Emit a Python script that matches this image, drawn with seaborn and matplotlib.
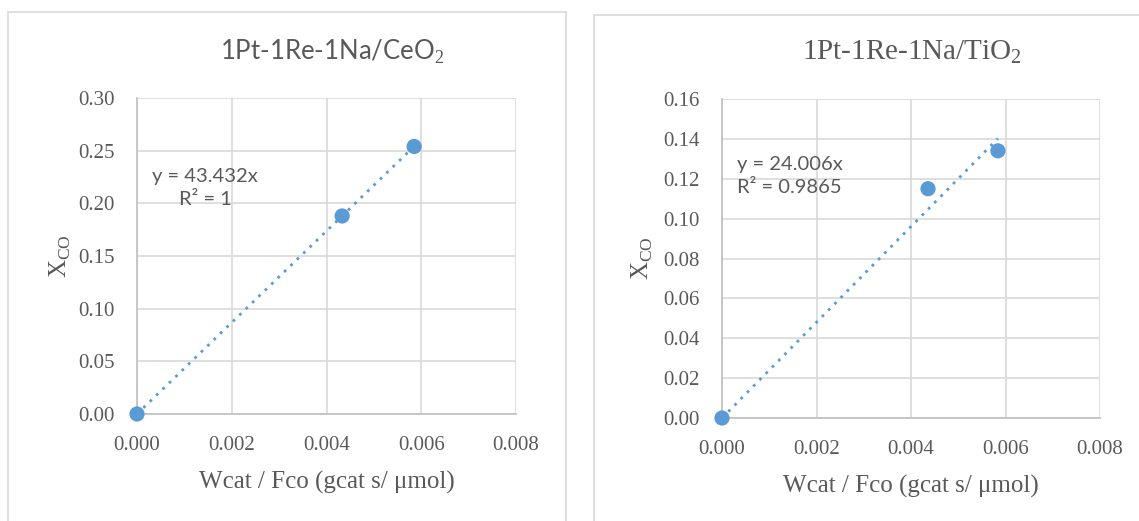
import matplotlib
matplotlib.use("Agg")
import matplotlib.pyplot as plt
import seaborn as sns
import numpy as np
import pandas as pd
from matplotlib.patches import Rectangle
from matplotlib.ticker import FixedLocator

# ---- data ----
titles = ["1Pt-1Re-1Na/CeO$_2$", "1Pt-1Re-1Na/TiO$_2$"]
ceo2_x = [0.0, 0.00433, 0.00585]
ceo2_y = [0.0, 0.188, 0.254]
tio2_x = [0.0, 0.00436, 0.00584]
tio2_y = [0.0, 0.115, 0.134]
slopes = [43.432, 24.006]
eq_labels = ["y = 43.432x\nR² = 1", "y = 24.006x\nR² = 0.9865"]
x_ticks = [0.000, 0.002, 0.004, 0.006, 0.008]
y_ticks_ceo2 = [0.00, 0.05, 0.10, 0.15, 0.20, 0.25, 0.30]
y_ticks_tio2 = [0.00, 0.02, 0.04, 0.06, 0.08, 0.10, 0.12, 0.14, 0.16]
x_label = "Wcat / Fco (gcat s/ μmol)"
y_label = "X$_{\\mathregular{CO}}$"

sns.set_theme(style="white")
plt.rcParams["font.family"] = ["Liberation Serif", "DejaVu Serif"]
plt.rcParams["mathtext.fontset"] = "custom"
plt.rcParams["mathtext.rm"] = "Liberation Serif"

BLUE = "#5b9bd5"
GRID = "#d9d9d9"
TXT = "#595959"

fig = plt.figure(figsize=(11.39, 5.21), dpi=100)

# panel borders
fig.patches.append(Rectangle((8 / 1139, -0.05), (566 - 8) / 1139, 1 - 12 / 521 + 0.05,
                             transform=fig.transFigure, fill=False, edgecolor=GRID, lw=1.2))
fig.patches.append(Rectangle((594 / 1139, -0.05), 0.5, 1 - 15 / 521 + 0.05,
                             transform=fig.transFigure, fill=False, edgecolor=GRID, lw=1.2))

ax1 = fig.add_axes([137 / 1139, 1 - 414 / 521, (516 - 137) / 1139, (414 - 98) / 521])
ax2 = fig.add_axes([722 / 1139, 1 - 418 / 521, (1100 - 722) / 1139, (418 - 99) / 521])

panels = [
    (ax1, ceo2_x, ceo2_y, y_ticks_ceo2, 0, -0.169),
    (ax2, tio2_x, tio2_y, y_ticks_tio2, 1, -0.177),
]

for ax, xs, ys, yt, i, ylab_x in panels:
    df = pd.DataFrame({"x": xs, "y": ys})
    xmax = max(xs)
    line = pd.DataFrame({"x": [0.0, xmax], "y": [0.0, slopes[i] * xmax]})
    sns.lineplot(data=line, x="x", y="y", ax=ax, color=BLUE, lw=2.0,
                 linestyle=(0, (1, 2.2)), zorder=3)
    sns.scatterplot(data=df, x="x", y="y", ax=ax, color=BLUE, s=120,
                    edgecolor="none", zorder=4, clip_on=False)
    ax.set_xlim(x_ticks[0], x_ticks[-1])
    ax.set_ylim(yt[0], yt[-1])
    ax.xaxis.set_major_locator(FixedLocator(x_ticks))
    ax.yaxis.set_major_locator(FixedLocator(yt))
    ax.set_xticklabels([f"{v:.3f}" for v in x_ticks])
    ax.set_yticklabels([f"{v:.2f}" for v in yt])
    ax.grid(True, color=GRID, lw=1.2)
    ax.set_axisbelow(True)
    for s in ["top", "right"]:
        ax.spines[s].set_visible(False)
    for s in ["left", "bottom"]:
        ax.spines[s].set_color("#bfbfbf")
        ax.spines[s].set_linewidth(1.2)
    ax.tick_params(axis="both", length=0, labelsize=15, labelcolor=TXT)
    ax.tick_params(axis="x", pad=16)
    ax.tick_params(axis="y", pad=16)
    ax.set_xlabel(x_label, fontsize=18, color=TXT, labelpad=11)
    ax.set_ylabel(y_label, fontsize=18, color=TXT)
    ax.yaxis.set_label_coords(ylab_x, 0.5)

# titles
fig.text(332 / 1139, 1 - 52 / 521, titles[0], ha="center", va="center", fontsize=18.5,
         color=TXT, family=["Lato", "DejaVu Sans"])
fig.text(912 / 1139, 1 - 52 / 521, titles[1], ha="center", va="center", fontsize=21,
         color=TXT)

# equations
fig.text(205 / 1139, 1 - 188 / 521, eq_labels[0],
         ha="center", va="center", multialignment="center", fontsize=14.5, color=TXT,
         family=["Lato", "DejaVu Sans"], linespacing=1.45)
fig.text(737 / 1139, 1 - 176 / 521, eq_labels[1],
         ha="left", va="center", multialignment="left", fontsize=14.5, color=TXT,
         family=["Lato", "DejaVu Sans"], linespacing=1.45)

fig.savefig("out.png", dpi=100)
